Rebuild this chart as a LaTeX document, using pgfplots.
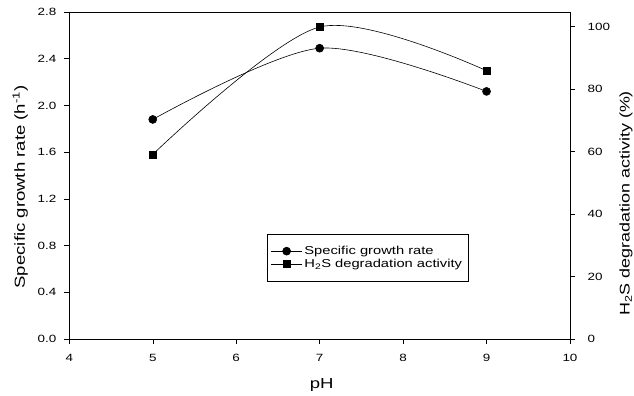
\documentclass[border=0pt]{standalone}
\usepackage{pgfplots}
\pgfplotsset{compat=1.18}
\usepackage{fontspec}
\setmainfont{Liberation Sans}[FakeStretch=1.28]
\begin{document}
\begin{tikzpicture}
\useasboundingbox (-69.3bp,-57bp) rectangle (564.7bp,339bp);
\pgfplotsset{every axis/.append style={
  font=\fontsize{10.5bp}{12.5bp}\selectfont,
  /pgf/number format/assume math mode=true,
  scale only axis, width=500.7bp, height=327bp,
  at={(0,0)}, anchor=south west,
  xmin=4, xmax=10,
  line width=0.5pt,
  tick style={black, line width=0.5pt},
  major tick length=5bp, tick align=outside,
}}
\begin{axis}[
  ymin=0, ymax=2.8,
  ytick={0,0.4,0.8,1.2,1.6,2.0,2.4,2.8},
  yticklabel style={xshift=-4.5bp, /pgf/number format/.cd, fixed, fixed zerofill, precision=1},
  xticklabel style={yshift=-6.5bp},
  xtick={4,5,6,7,8,9,10},
  xtick pos=left, ytick pos=left,
  every axis x label/.style={at={(axis description cs:0.504,0)}, yshift=-46bp, anchor=center, font=\fontsize{14.5bp}{16bp}\selectfont},
  every axis y label/.style={at={(axis description cs:0,0.465)}, xshift=-49bp, rotate=90, anchor=center, font=\fontsize{14.5bp}{16bp}\selectfont},
  xlabel={pH},
  ylabel={Specific growth rate (h\textsuperscript{-1})},
]
\addplot[black, line width=0.6pt, smooth, mark=*, mark size=4bp, mark options={solid}] coordinates {(5,1.88) (7,2.49) (9,2.12)};
\end{axis}
\begin{axis}[
  axis y line*=right, axis x line=none,
  ymin=0, ymax=104.7,
  ytick={0,20,40,60,80,100},
  yticklabel style={xshift=9bp},
  every axis y label/.style={at={(axis description cs:1,0.415)}, xshift=56bp, rotate=90, anchor=center, font=\fontsize{14bp}{16bp}\selectfont},
  ylabel={H\textsubscript{2}S degradation activity (\%)},
  legend style={at={(0.394,0.177)}, anchor=south west, draw=black, line width=0.5pt,
    font=\fontsize{11.5bp}{13bp}\selectfont, row sep=-1bp, inner xsep=4bp, inner ysep=10bp},
  legend cell align=left,
  legend image code/.code={\draw[mark repeat=2, mark phase=2] plot coordinates {(0bp,0bp) (15.5bp,0bp) (31bp,0bp)};},
]
\addlegendimage{black, line width=0.6pt, mark=*, mark size=4bp}
\addlegendentry{Specific growth rate}
\addplot[black, line width=0.6pt, smooth, mark=square*, mark size=3.6bp] coordinates {(5,59.1) (7,99.9) (9,85.9)};
\addlegendentry{H\textsubscript{2}S degradation activity}
\end{axis}
\end{tikzpicture}
\end{document}
